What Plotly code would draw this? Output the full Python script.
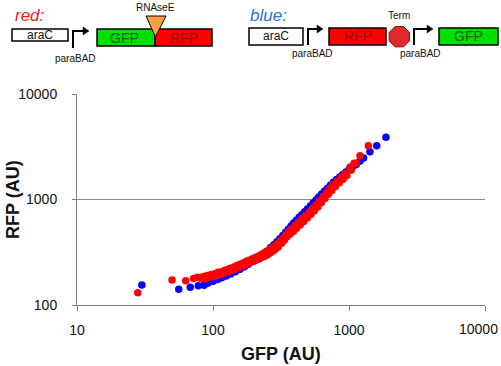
import math
import plotly.graph_objects as go

# ---- data ----
red_gfp = [28, 50, 63, 72, 77,
           82, 85, 88, 91, 94, 97, 100, 103, 106, 109, 112, 115, 118, 121, 124, 127, 130,
           133, 136, 139, 142, 145, 148, 152, 156, 160, 164, 168, 172, 176, 180, 185, 190,
           195, 200, 205, 210, 215, 220, 225, 230, 235, 240, 246, 252, 258, 264, 270, 276,
           282, 288, 295, 302, 310, 318, 326, 334, 342, 350, 360, 370, 380, 390, 400, 412,
           425, 438, 450, 465, 480, 495, 510, 525, 540, 556, 572, 590, 608, 626, 645, 665,
           685, 705, 725, 748, 770, 795, 820, 848, 875, 905, 935, 965, 1017, 1040, 1090,
           1130, 1205, 1387]
red_rfp = [131, 173, 170, 178, 183,
           178, 186, 176, 190, 183, 195, 186, 198, 190, 204, 194, 206, 199, 212, 203, 216, 207,
           222, 212, 226, 216, 232, 221, 238, 228, 245, 234, 252, 240, 260, 247, 266, 254,
           274, 260, 282, 268, 290, 274, 300, 283, 310, 290, 322, 300, 332, 312, 346, 325,
           360, 338, 376, 355, 400, 383, 428, 410, 460, 440, 495, 470, 530, 498, 565, 535,
           608, 575, 655, 620, 705, 672, 760, 725, 820, 782, 890, 850, 975, 930, 1065, 1020,
           1170, 1120, 1270, 1215, 1380, 1325, 1500, 1445, 1620, 1560, 1760, 1690, 2020, 1900, 2200,
           2200, 2600, 3240]

blue_gfp = [30, 56, 68, 78, 86, 92, 100, 108, 116, 125, 135, 146, 158, 170, 182, 195, 208,
            222, 236, 250, 265, 280, 295, 310, 326, 342, 358, 375, 392, 410, 430, 450, 472,
            495, 520, 545, 572, 600, 630, 662, 695, 730, 770, 810, 855, 900, 950, 1005, 1065,
            1130, 1200, 1280, 1425, 1600, 1870]
blue_rfp = [155, 141, 147, 152, 154, 162, 168, 174, 181, 188, 197, 207, 218, 230, 243, 258, 273,
            290, 306, 323, 350, 372, 398, 425, 455, 488, 522, 560, 598, 636, 678, 718, 765,
            812, 870, 925, 988, 1055, 1128, 1205, 1280, 1362, 1455, 1545, 1635, 1725, 1820, 1930, 2040,
            2150, 2300, 2470, 2840, 3240, 3900]

x_ticks = [10, 100, 1000, 10000]
y_ticks = [100, 1000, 10000]
x_title = "GFP (AU)"
y_title = "RFP (AU)"

RED = "#FF0000"
BLUE = "#0000FF"
FONT = "Liberation Sans, Arial, sans-serif"

# plot area in pixels
L, R, T, B = 77, 485, 94, 305
W, H = 501, 366


def X(p):
    return (p - L) / (R - L)


def Y(p):
    return (B - p) / (B - T)


fig = go.Figure()
fig.add_trace(go.Scatter(x=blue_gfp, y=blue_rfp, mode="markers",
                         marker=dict(color=BLUE, size=7.5, line=dict(width=0)), showlegend=False))
fig.add_trace(go.Scatter(x=red_gfp, y=red_rfp, mode="markers",
                         marker=dict(color=RED, size=7.5, line=dict(width=0)), showlegend=False))

shapes = []
annotations = []


def rect(x0, y0, x1, y1, fill, lw=1.5):
    shapes.append(dict(type="rect", xref="paper", yref="paper", x0=X(x0), x1=X(x1),
                       y0=Y(y1), y1=Y(y0), fillcolor=fill, line=dict(color="black", width=lw)))


def text(x, y, s, size, color="#111111", italic=False, bold=False, angle=0, xanchor="center"):
    if bold:
        s = "<b>" + s + "</b>"
    if italic:
        s = "<i>" + s + "</i>"
    annotations.append(dict(xref="paper", yref="paper", x=X(x), y=Y(y), text=s,
                            showarrow=False, xanchor=xanchor, yanchor="middle", textangle=angle,
                            font=dict(size=size, color=color, family=FONT)))


def promoter(xv, ybot, ytop, xend):
    shapes.append(dict(type="path", xref="paper", yref="paper",
                       path=f"M {X(xv)},{Y(ybot)} L {X(xv)},{Y(ytop)} L {X(xend - 3)},{Y(ytop)}",
                       line=dict(color="black", width=2)))
    shapes.append(dict(type="path", xref="paper", yref="paper",
                       path=f"M {X(xend + 2)},{Y(ytop)} L {X(xend - 4)},{Y(ytop - 4)} L {X(xend - 4)},{Y(ytop + 4)} Z",
                       fillcolor="black", line=dict(color="black", width=0.5)))


# --- "red:" construct ---
text(30, 15, "red:", 17, color="#EE1C1C", italic=True)
rect(12, 29, 68, 41, "white")
text(40, 35, "araC", 12)
promoter(73, 48, 31, 87)
text(75, 58, "paraBAD", 10)
rect(97, 29, 155, 46, "#00E000")
text(124, 37.5, "GFP", 14, color="#0A5C0A")
rect(155, 29, 212, 46, "#FF0000")
text(184, 37.5, "RFP", 14, color="#9A0A0A")
shapes.append(dict(type="path", xref="paper", yref="paper",
                   path=f"M {X(146)},{Y(16)} L {X(166)},{Y(16)} L {X(155.5)},{Y(37)} Z",
                   fillcolor="#F7A048", line=dict(color="black", width=1)))
text(155, 7, "RNAseE", 10)

# --- "blue:" construct ---
text(268, 15, "blue:", 17, color="#2F74D0", italic=True)
rect(249, 28, 303, 45, "white")
text(276, 36.5, "araC", 12)
promoter(308, 45, 29, 321)
text(312, 53.5, "paraBAD", 10)
rect(329, 28, 386, 45, "#FF0000")
text(357.5, 36.5, "RFP", 14, color="#9A0A0A")
cx, cy, rr = 399.3, 36.7, 11
pts = []
for k in range(8):
    a = math.radians(22.5 + 45 * k)
    pts.append((X(cx + rr * math.cos(a)), Y(cy + rr * math.sin(a))))
path = "M " + " L ".join(f"{px},{py}" for px, py in pts) + " Z"
shapes.append(dict(type="path", xref="paper", yref="paper", path=path,
                   fillcolor="#E02A2A", line=dict(color="#7A1010", width=1)))
text(399, 15, "Term", 10)
promoter(414, 45, 29, 431)
text(420, 53.5, "paraBAD", 10)
rect(439, 28, 498, 45, "#00E000")
text(468.5, 36.5, "GFP", 14, color="#0A5C0A")

# axis titles
text(281, 354, x_title, 18, bold=True)
text(13, 200, y_title, 18, bold=True, angle=-90)
# last x tick label sits at the right edge of the plot; keep it inside the page
text(500, 329, str(x_ticks[-1]), 14, xanchor="right")

fig.update_layout(
    width=W, height=H,
    margin=dict(l=L, r=W - R, t=T, b=H - B, pad=0, autoexpand=False),
    paper_bgcolor="white", plot_bgcolor="white",
    font=dict(family=FONT, color="#111111", size=14),
    shapes=shapes, annotations=annotations,
    xaxis=dict(type="log", range=[1, 4], tickvals=x_ticks,
               ticktext=[str(v) for v in x_ticks[:-1]] + [""], automargin=False,
               showgrid=False, zeroline=False, showline=True, linecolor="#7F7F7F", linewidth=1,
               ticks="outside", ticklen=5, tickcolor="#7F7F7F", tickfont=dict(size=14, color="#111111"),
               ticklabelstandoff=7),
    yaxis=dict(type="log", range=[2, 4], tickvals=y_ticks, ticktext=[str(v) for v in y_ticks],
               automargin=False,
               showgrid=True, gridcolor="#8A8A8A", gridwidth=1, zeroline=False,
               showline=True, linecolor="#7F7F7F", linewidth=1,
               ticks="outside", ticklen=4, tickcolor="#7F7F7F", tickfont=dict(size=14, color="#111111"),
               ticklabelstandoff=12),
)

fig.write_html("out.html")
